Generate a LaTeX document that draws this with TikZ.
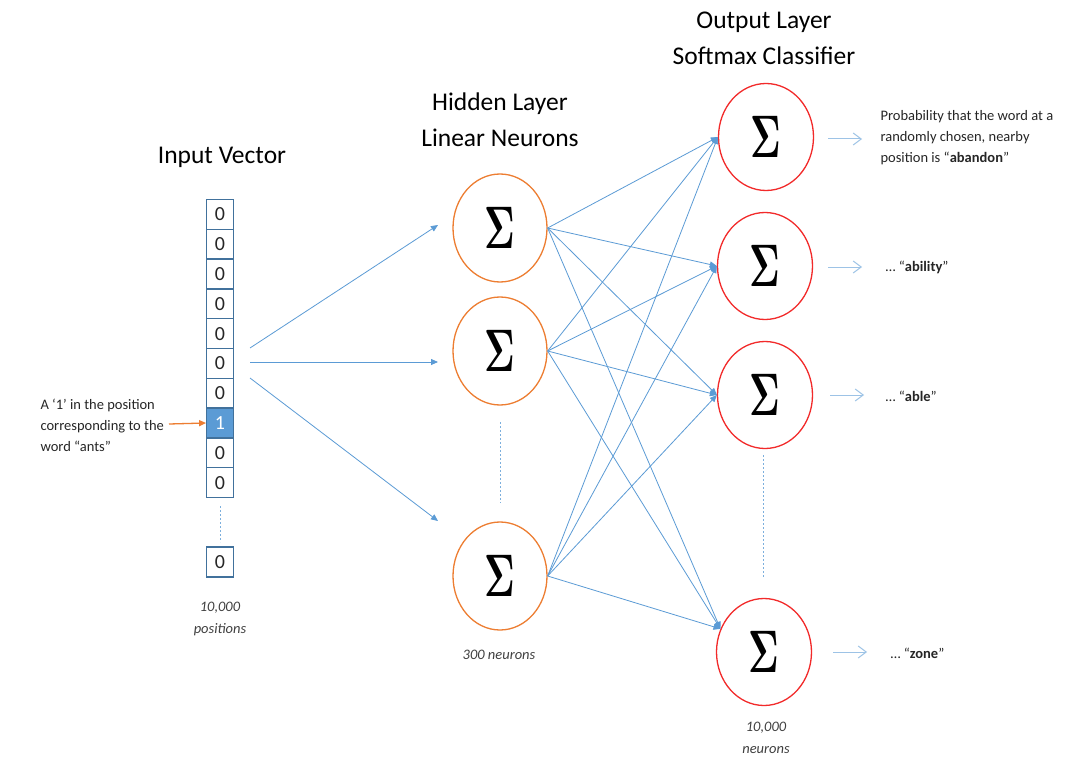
\documentclass[tikz,border=0pt]{standalone}
\usepackage[no-math]{fontspec}
\setmainfont{Carlito}
\usetikzlibrary{shapes.geometric,arrows.meta}
\definecolor{cellblue}{HTML}{41719C}
\definecolor{fillblue}{HTML}{5B9BD5}
\definecolor{lineblue}{HTML}{5B9BD5}
\definecolor{lightblue}{HTML}{9DC3E6}
\definecolor{orng}{HTML}{ED7D31}
\definecolor{rd}{HTML}{F22A2A}
\definecolor{txt}{HTML}{262626}
\definecolor{captxt}{HTML}{404040}
\newcommand{\sig}{\scalebox{3.7}[6.0]{\fontsize{10}{10}\selectfont\boldmath$\Sigma$}}
\begin{document}
\begin{tikzpicture}[x=1pt,y=-1pt,
  cell/.style={draw=cellblue,line width=1.3pt,minimum width=26.5pt,minimum height=29.8pt,inner sep=0pt,font=\fontsize{20}{20}\selectfont,text=txt},
  hid/.style={ellipse,draw=orng,line width=1.3pt,minimum width=94pt,minimum height=108pt,inner sep=0pt},
  outn/.style={ellipse,draw=rd,line width=1.3pt,minimum width=95pt,minimum height=107pt,inner sep=0pt},
  conn/.style={draw=lineblue,line width=0.8pt,-{Triangle[length=7pt,width=6pt]}},
  outarrow/.style={draw=lightblue,line width=1pt,-{Straight Barb[length=8pt,width=12pt]}},
  dotline/.style={draw=lineblue!80,line width=0.9pt,dash pattern=on 2pt off 2pt},
  titletext/.style={font=\fontsize{25.5}{36}\selectfont,align=center,text=black},
  captext/.style={font=\fontsize{14.5}{22}\selectfont\itshape,align=center,text=captxt},
  notetext/.style={font=\fontsize{14.5}{21}\selectfont,align=left,text=txt,anchor=west}]
\fill[white] (0,0) rectangle (1072,757);
\useasboundingbox (0,0) rectangle (1072,757);

% titles
\node[titletext] (tin) at (222,157) {Input Vector};
\node[titletext] (thid) at (500,119.5) {Hidden Layer\\Linear Neurons};
\node[titletext] (tout) at (764,38) {Output Layer\\Softmax Classifier};

% input vector
\node[cell] (c1) at (220,214.4) {0};
\node[cell] (c2) at (220,244.2) {0};
\node[cell] (c3) at (220,274.0) {0};
\node[cell] (c4) at (220,303.8) {0};
\node[cell] (c5) at (220,333.6) {0};
\node[cell] (c6) at (220,363.4) {0};
\node[cell] (c7) at (220,393.2) {0};
\node[cell,fill=fillblue,text=white] (c8) at (220,423.0) {1};
\node[cell] (c9) at (220,452.8) {0};
\node[cell] (c10) at (220,482.6) {0};
\node[cell] (cN) at (220,562) {0};
\coordinate (vd1) at (220,506);
\coordinate (vd2) at (220,542);
\draw[dotline] (vd1) -- (vd2);
\node[captext] (capin) at (220,619) {10,000\\positions};

% annotation
\node[notetext] (ann) at (37,425) {A ‘1’ in the position\\corresponding to the\\word “ants”};
\coordinate (oa) at (169,424);
\draw[draw=orng,line width=1.3pt,-{Triangle[length=7pt,width=6pt]}] (oa) -- (c8.west);

% hidden layer
\node[hid] (h1) at (500,228) {\sig};
\node[hid] (h2) at (500,351) {\sig};
\node[hid] (h3) at (500,576) {\sig};
\coordinate (hd1) at (500,422);
\coordinate (hd2) at (500,503);
\draw[dotline] (hd1) -- (hd2);
\node[captext] (caphid) at (499,655) {300 neurons};

% input arrows
\coordinate (s1) at (250,348);
\coordinate (s2) at (250,362);
\coordinate (s3) at (250,378);
\coordinate (e1) at (438,225);
\coordinate (e2) at (438,362);
\coordinate (e3) at (438,521);
\draw[conn] (s1) -- (e1);
\draw[conn] (s2) -- (e2);
\draw[conn] (s3) -- (e3);

% output layer
\node[outn] (o1) at (766,137) {\sig};
\node[outn] (o2) at (765,266) {\sig};
\node[outn] (o3) at (765,395) {\sig};
\node[outn] (o4) at (764,652) {\sig};
\coordinate (od1) at (763,455);
\coordinate (od2) at (763,577);
\draw[dotline] (od1) -- (od2);
\node[captext] (capout) at (766,738) {10,000\\neurons};

% hidden -> output
\foreach \h in {h1,h2,h3}{
  \foreach \o in {o1,o2,o3}{
    \draw[conn] (\h.east) -- (\o.west);
  }
  \draw[conn] (\h.east) -- (o4.152);
}

% output arrows and labels
\coordinate (a1) at (828,139); \coordinate (b1) at (862,139);
\coordinate (a2) at (828,267); \coordinate (b2) at (862,267);
\coordinate (a3) at (830,395); \coordinate (b3) at (864,395);
\coordinate (a4) at (833,652); \coordinate (b4) at (867,652);
\draw[outarrow] (a1) -- (b1);
\draw[outarrow] (a2) -- (b2);
\draw[outarrow] (a3) -- (b3);
\draw[outarrow] (a4) -- (b4);
\node[notetext] (l1) at (877,138) {Probability that the word at a\\randomly chosen, nearby\\position is “\textbf{abandon}”};
\node[notetext] (l2) at (882,267) {… “\textbf{ability}”};
\node[notetext] (l3) at (882,396) {… “\textbf{able}”};
\node[notetext] (l4) at (887,653) {… “\textbf{zone}”};
\end{tikzpicture}
\end{document}
